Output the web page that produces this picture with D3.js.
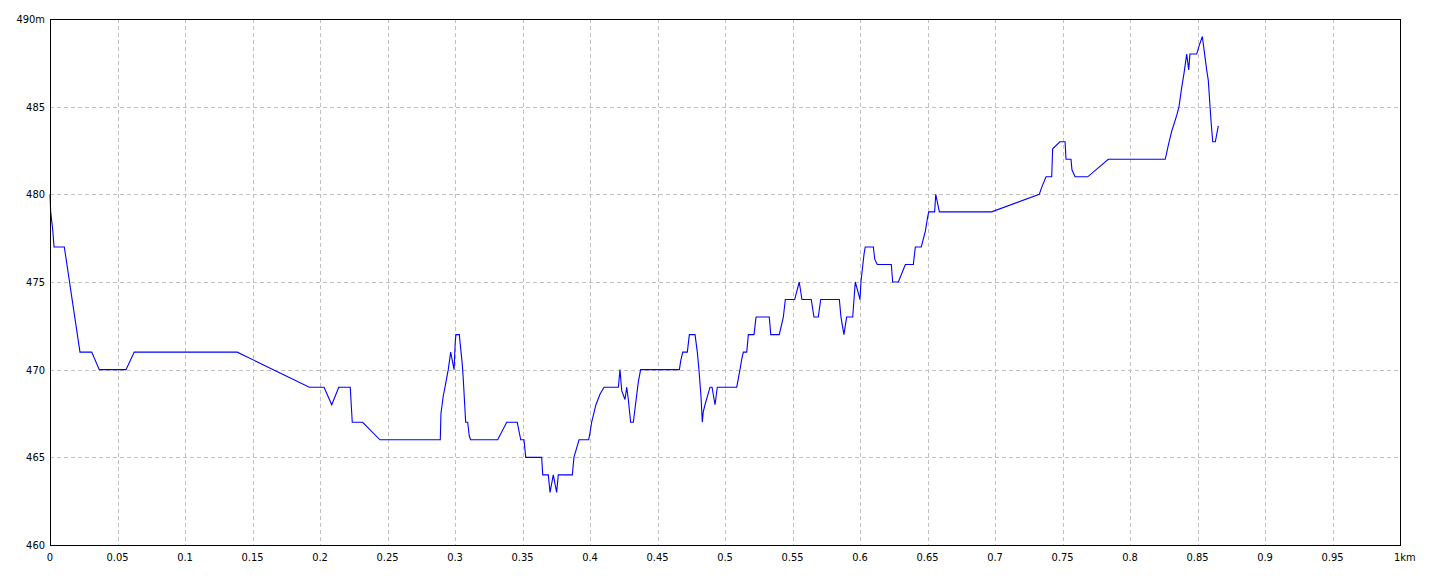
<!DOCTYPE html>
<html>
<head>
<meta charset="utf-8">
<script src="https://cdn.jsdelivr.net/npm/d3@7"></script>
<style>
  html, body { margin: 0; padding: 0; background: #fff; }
  svg { display: block; }
  text { font-family: "Liberation Sans Narrow", "DejaVu Sans Condensed", "Liberation Sans", sans-serif; font-size: 11px; fill: #000; }
</style>
</head>
<body>
<svg id="chart" width="1440" height="576"></svg>
<script>
// Distance along route (km)
const distanceKm = [
  0.0000, 0.0005, 0.0020, 0.0030, 0.0106, 0.0222, 0.0309, 0.0365, 0.0563, 0.0624,
  0.1387, 0.1921, 0.2030, 0.2087, 0.2139, 0.2224, 0.2239, 0.2316, 0.2444, 0.2891,
  0.2896, 0.2913, 0.2926, 0.2950, 0.2968, 0.2983, 0.2993, 0.3002, 0.3007, 0.3032,
  0.3037, 0.3054, 0.3061, 0.3069, 0.3079, 0.3094, 0.3106, 0.3116, 0.3316, 0.3383,
  0.3461, 0.3474, 0.3487, 0.3511, 0.3524, 0.3642, 0.3650, 0.3691, 0.3704, 0.3728,
  0.3753, 0.3765, 0.3869, 0.3881, 0.3919, 0.3990, 0.4000, 0.4012, 0.4044, 0.4074,
  0.4104, 0.4210, 0.4222, 0.4235, 0.4259, 0.4272, 0.4284, 0.4301, 0.4321, 0.4358,
  0.4375, 0.4662, 0.4672, 0.4687, 0.4721, 0.4736, 0.4778, 0.4795, 0.4807, 0.4822,
  0.4832, 0.4839, 0.4852, 0.4889, 0.4904, 0.4926, 0.4943, 0.5087, 0.5111, 0.5124,
  0.5136, 0.5161, 0.5173, 0.5215, 0.5230, 0.5328, 0.5339, 0.5402, 0.5432, 0.5447,
  0.5516, 0.5550, 0.5570, 0.5639, 0.5659, 0.5691, 0.5709, 0.5847, 0.5859, 0.5881,
  0.5901, 0.5946, 0.5965, 0.5990, 0.6000, 0.6007, 0.6030, 0.6039, 0.6099, 0.6109,
  0.6128, 0.6232, 0.6242, 0.6284, 0.6336, 0.6395, 0.6410, 0.6454, 0.6484, 0.6501,
  0.6509, 0.6553, 0.6561, 0.6588, 0.6975, 0.7328, 0.7346, 0.7378, 0.7420, 0.7427,
  0.7481, 0.7519, 0.7526, 0.7563, 0.7570, 0.7593, 0.7687, 0.7839, 0.8261, 0.8284,
  0.8309, 0.8346, 0.8363, 0.8383, 0.8400, 0.8420, 0.8435, 0.8444, 0.8494, 0.8513,
  0.8536, 0.8556, 0.8568, 0.8580, 0.8593, 0.8602, 0.8613, 0.8632, 0.8642, 0.8654
];
// Elevation (m)
const elevationM = [
  480, 479, 478, 477, 477, 471, 471, 470, 470, 471,
  471, 469, 469, 468, 469, 469, 467, 467, 466, 466,
  467.5, 468.5, 469, 470, 471, 470.4, 470, 471.6, 472, 472,
  471.6, 470.3, 469.5, 468.4, 467, 467, 466.2, 466, 466, 467,
  467, 466.5, 466, 466, 465, 465, 464, 464, 463, 464,
  463, 464, 464, 465, 466, 466, 466.4, 467, 468, 468.6,
  469, 469, 470, 468.8, 468.3, 469, 468.3, 467, 467, 469.3,
  470, 470, 470.5, 471, 471, 472, 472, 471, 470, 468.5,
  467, 467.6, 468, 469, 469, 468, 469, 469, 470, 470.6,
  471, 471, 472, 472, 473, 473, 472, 472, 473, 474,
  474, 475, 474, 474, 473, 473, 474, 474, 473, 472,
  473, 473, 475, 474.3, 474, 475, 476.6, 477, 477, 476.3,
  476, 476, 475, 475, 476, 476, 477, 477, 477.9, 478.7,
  479, 479, 480, 479, 479, 480, 480.4, 481, 481, 482.6,
  483, 483, 482, 482, 481.4, 481, 481, 482, 482, 482.8,
  483.6, 484.5, 485, 486.1, 486.9, 488, 487.1, 488, 488, 488.5,
  489, 487.8, 487.1, 486.5, 485, 484, 483, 483, 483.4, 483.9
];
const xTicks = [0, 0.05, 0.1, 0.15, 0.2, 0.25, 0.3, 0.35, 0.4, 0.45, 0.5, 0.55, 0.6, 0.65, 0.7, 0.75, 0.8, 0.85, 0.9, 0.95, 1];
const xTickLabels = ["0", "0.05", "0.1", "0.15", "0.2", "0.25", "0.3", "0.35", "0.4", "0.45", "0.5", "0.55", "0.6", "0.65", "0.7", "0.75", "0.8", "0.85", "0.9", "0.95", "1km"];
const yTicks = [460, 465, 470, 475, 480, 485, 490];
const yTickLabels = ["460", "465", "470", "475", "480", "485", "490m"];

const svg = d3.select("#chart");
const plotLeft = 50, plotRight = 1400, plotTop = 19, plotBottom = 545;

const x = d3.scaleLinear().domain([0, 1]).range([plotLeft, plotRight]);
const y = d3.scaleLinear().domain([460, 490]).range([plotBottom, plotTop]);

// Grid
const grid = svg.append("g");
grid.selectAll("line.vg").data(xTicks.slice(1, -1)).join("line")
  .attr("x1", d => Math.round(x(d)) + 0.5).attr("x2", d => Math.round(x(d)) + 0.5)
  .attr("y1", plotTop).attr("y2", plotBottom)
  .attr("stroke", "#c0c0c0").attr("stroke-width", 1).attr("stroke-dasharray", "4,3");
grid.selectAll("line.hg").data(yTicks.slice(1, -1)).join("line")
  .attr("y1", d => Math.round(y(d)) + 0.5).attr("y2", d => Math.round(y(d)) + 0.5)
  .attr("x1", plotLeft).attr("x2", plotRight)
  .attr("stroke", "#c0c0c0").attr("stroke-width", 1).attr("stroke-dasharray", "4,3");

// Line
const pts = distanceKm.map((d, i) => [d, elevationM[i]]);
const line = d3.line().x(d => x(d[0])).y(d => y(d[1]));
svg.append("path").datum(pts)
  .attr("d", line)
  .attr("fill", "none")
  .attr("stroke", "#0000ff")
  .attr("stroke-width", 1.1)
  .attr("stroke-linejoin", "miter");

// Frame
svg.append("rect")
  .attr("x", plotLeft + 0.5).attr("y", plotTop + 0.5)
  .attr("width", plotRight - plotLeft).attr("height", plotBottom - plotTop)
  .attr("fill", "none").attr("stroke", "#000").attr("stroke-width", 1);

// X labels
svg.append("g").selectAll("text").data(xTicks).join("text")
  .attr("x", (d, i) => i === xTicks.length - 1 ? x(d) - 6 : x(d))
  .attr("y", 561)
  .attr("text-anchor", (d, i) => i === xTicks.length - 1 ? "start" : "middle")
  .text((d, i) => xTickLabels[i]);

// Y labels
svg.append("g").selectAll("text").data(yTicks).join("text")
  .attr("x", 45)
  .attr("y", d => y(d) + 4)
  .attr("text-anchor", "end")
  .text((d, i) => yTickLabels[i]);
</script>
</body>
</html>
